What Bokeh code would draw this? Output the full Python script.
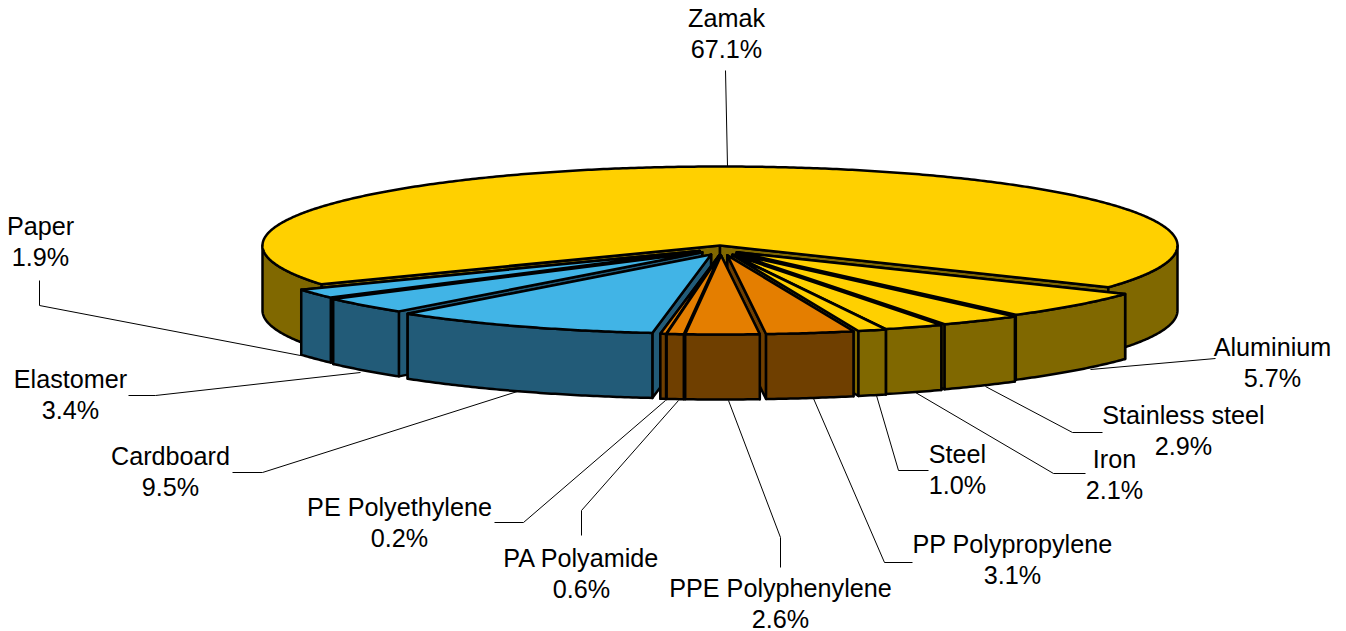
import math
from bokeh.plotting import figure
from bokeh.embed import file_html
from bokeh.resources import INLINE
from bokeh.core.properties import value

# data, clockwise starting at Zamak
names = ["Zamak", "Aluminium", "Stainless steel", "Iron", "Steel", "PP Polypropylene",
         "PPE Polyphenylene", "PA Polyamide", "PE Polyethylene", "Cardboard", "Elastomer", "Paper"]
shares = [67.1, 5.7, 2.9, 2.1, 1.0, 3.1, 2.6, 0.6, 0.2, 9.5, 3.4, 1.9]
groups = ["metal", "metal", "metal", "metal", "metal", "plastic", "plastic", "plastic", "plastic",
          "fibre", "fibre", "fibre"]
top_colors = {"metal": "#FFD000", "plastic": "#E47E00", "fibre": "#41B4E6"}
wall_colors = {"metal": "#806800", "plastic": "#6F3F00", "fibre": "#225B78"}

# layout
CX, CY, RX, RY, DEPTH = 719.5, 245.0, 457.5, 79.0, 65.0
START = -119.4
EX, EY = 24.0, 10.0
slice_nudge = {"Aluminium": -1, "Stainless steel": 3, "Iron": 3, "Steel": 5, "PP Polypropylene": 3,
               "PPE Polyphenylene": 1, "PA Polyamide": 2, "PE Polyethylene": 2, "Cardboard": 1}
label_xy = {
    "Zamak": (726, 17), "Aluminium": (1272, 346), "Stainless steel": (1183, 414), "Iron": (1114, 458),
    "Steel": (957, 453), "PP Polypropylene": (1012, 543), "PPE Polyphenylene": (780, 587),
    "PA Polyamide": (581, 557), "PE Polyethylene": (399, 506), "Cardboard": (170, 455),
    "Elastomer": (70, 378), "Paper": (40, 225),
}
leaders = {
    "Zamak": [(727, 166), (725, 70)], "Aluminium": [(1090, 369), (1215, 358)],
    "Stainless steel": [(985, 386), (1072, 432), (1102, 432)], "Iron": [(915, 392), (1053, 473), (1085, 473)],
    "Steel": [(876, 395), (898, 470), (928, 470)], "PP Polypropylene": [(813, 398), (884, 562), (912, 562)],
    "PPE Polyphenylene": [(728, 400), (780, 537), (780, 567)], "PA Polyamide": [(678, 400), (581, 510), (581, 535)],
    "PE Polyethylene": [(665, 400), (523, 522), (494, 522)], "Cardboard": [(520, 390), (262, 472), (232, 472)],
    "Elastomer": [(360, 372), (155, 395), (128, 395)], "Paper": [(300, 355), (39, 305), (39, 280)],
}

p = figure(width=1346, height=631, x_range=(0, 1346), y_range=(631, 0), toolbar_location=None,
           output_backend="svg", min_border=0, outline_line_color=None, background_fill_color="white")
p.axis.visible = False
p.grid.visible = False


def pt(phi, ox, oy, dz=0.0):
    a = math.radians(phi)
    return (CX + ox + RX * math.sin(a), CY + oy - RY * math.cos(a) + dz)


def arc(a0, a1, ox, oy, dz=0.0):
    n = max(2, int(abs(a1 - a0) * 2))
    return [pt(a0 + (a1 - a0) * i / n, ox, oy, dz) for i in range(n + 1)]


def patch(points, color):
    p.patch([q[0] for q in points], [q[1] for q in points], fill_color=color, line_color="black",
            line_width=2.5, line_join="round")


total = sum(shares)
wedges = []
phi = START
for n, s, g in zip(names, shares, groups):
    span = s / total * 360
    wedges.append((n, s, g, phi, phi + span))
    phi += span


def draw(w, exploded):
    n, s, g, a0, a1 = w
    mid = (a0 + a1) / 2
    m = math.radians(mid)
    ox = EX * math.sin(m) + slice_nudge.get(n, 0) if exploded else 0.0
    oy = -EY * math.cos(m) if exploded else 0.0
    top, wall = top_colors[g], wall_colors[g]
    apex = (CX + ox, CY + oy)
    apex_low = (apex[0], apex[1] + DEPTH)
    # the face turned away from the viewer goes first
    for a in ((a0, a1) if mid < 180 else (a1, a0)):
        patch([apex, pt(a, ox, oy), pt(a, ox, oy, DEPTH), apex_low], wall)
    for lo, hi in ((a0, a1), (a0 + 360, a1 + 360), (a0 - 360, a1 - 360)):
        l, h = max(lo, 90), min(hi, 270)
        if l < h:
            patch(arc(l, h, ox, oy) + arc(h, l, ox, oy, DEPTH), wall)
    patch([apex] + arc(a0, a1, ox, oy), top)


# Zamak is the back piece and stays in place; the rest is painted from the sides to the front
draw(wedges[0], False)
for w in sorted(wedges[1:], key=lambda w: -abs((w[3] + w[4]) / 2 - 180)):
    draw(w, True)

for n in names:
    pts = leaders[n]
    p.line([q[0] for q in pts], [q[1] for q in pts], line_color="black", line_width=1)

xs, ys, txt = [], [], []
for n, s in zip(names, shares):
    x, y = label_xy[n]
    xs += [x, x]
    ys += [y, y + 31]
    txt += [n, f"{s:.1f}%"]
p.text(xs, ys, text=txt, text_font=value("Liberation Sans"), text_font_size="25.2px", text_color="black",
       text_align="center", text_baseline="middle")

open("out.html", "w").write(file_html(p, INLINE))
